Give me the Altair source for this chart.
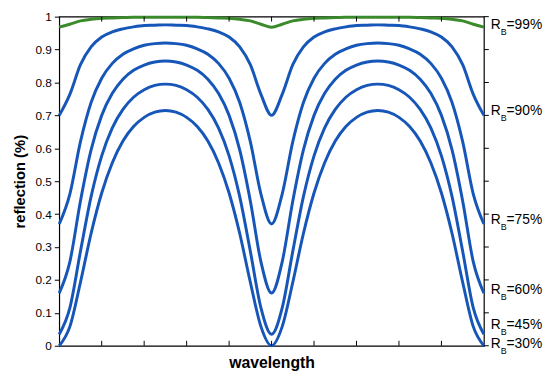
import altair as alt
import pandas as pd

# wavelength grid (arbitrary units, 10 tick intervals)
wl = [i * 0.25 for i in range(41)]

r99 = [0.968,0.977,0.987,0.992,0.995,0.996,0.997,0.998,0.998,0.998,0.998,0.998,0.998,0.998,0.997,0.996,0.995,0.992,0.987,0.977,0.968,
       0.977,0.987,0.992,0.995,0.996,0.997,0.998,0.998,0.998,0.998,0.998,0.998,0.998,0.997,0.996,0.995,0.992,0.987,0.977,0.968]
r90 = [0.700,0.764,0.854,0.908,0.938,0.954,0.963,0.969,0.973,0.974,0.975,0.974,0.973,0.969,0.963,0.954,0.938,0.908,0.854,0.764,0.700,
       0.764,0.854,0.908,0.938,0.954,0.963,0.969,0.973,0.974,0.975,0.974,0.973,0.969,0.963,0.954,0.938,0.908,0.854,0.764,0.700]
r75 = [0.370,0.461,0.620,0.739,0.813,0.858,0.886,0.902,0.913,0.918,0.920,0.918,0.913,0.902,0.886,0.858,0.813,0.739,0.620,0.461,0.370,
       0.461,0.620,0.739,0.813,0.858,0.886,0.902,0.913,0.918,0.920,0.918,0.913,0.902,0.886,0.858,0.813,0.739,0.620,0.461,0.370]
r60 = [0.160,0.255,0.440,0.595,0.700,0.767,0.810,0.837,0.853,0.862,0.865,0.862,0.853,0.837,0.810,0.767,0.700,0.595,0.440,0.255,0.160,
       0.255,0.440,0.595,0.700,0.767,0.810,0.837,0.853,0.862,0.865,0.862,0.853,0.837,0.810,0.767,0.700,0.595,0.440,0.255,0.160]
r45 = [0.035,0.115,0.287,0.453,0.577,0.662,0.718,0.755,0.778,0.791,0.795,0.791,0.778,0.755,0.718,0.662,0.577,0.453,0.287,0.115,0.035,
       0.115,0.287,0.453,0.577,0.662,0.718,0.755,0.778,0.791,0.795,0.791,0.778,0.755,0.718,0.662,0.577,0.453,0.287,0.115,0.035]
r30 = [0.000,0.058,0.193,0.341,0.464,0.556,0.622,0.666,0.694,0.710,0.715,0.710,0.694,0.666,0.622,0.556,0.464,0.341,0.193,0.058,0.000,
       0.058,0.193,0.341,0.464,0.556,0.622,0.666,0.694,0.710,0.715,0.710,0.694,0.666,0.622,0.556,0.464,0.341,0.193,0.058,0.000]

curve_names = ["99%", "90%", "75%", "60%", "45%", "30%"]
curve_vals = [r99, r90, r75, r60, r45, r30]
curve_colors = ["#3b8a2c", "#1656b8", "#1656b8", "#1656b8", "#1656b8", "#1656b8"]

label_text = ["=99%", "=90%", "=75%", "=60%", "=45%", "=30%"]
label_y = [0.973, 0.713, 0.383, 0.168, 0.062, 0.004]

y_ticks = [0, 0.1, 0.2, 0.3, 0.4, 0.5, 0.6, 0.7, 0.8, 0.9, 1]
x_ticks = [1, 2, 3, 4, 5, 6, 7, 8, 9]

rows = []
for name, vals in zip(curve_names, curve_vals):
    for x, v in zip(wl, vals):
        rows.append({"wl": x, "R": v, "curve": name})
df = pd.DataFrame(rows)
lab = pd.DataFrame({"t": label_text, "y": label_y})
yt = pd.DataFrame({"R": y_ticks})
xt = pd.DataFrame({"wl": x_ticks})

FONT = "Liberation Sans"
W, H = 431, 334

xs = alt.Scale(domain=[0, 10], nice=False, zero=False)
ys = alt.Scale(domain=[0, 1], nice=False)

xa = alt.Axis(ticks=False, labels=False, domain=False, grid=False,
              title="wavelength", titleFontSize=16, titleFontWeight="bold",
              titleFont=FONT, titlePadding=9, titleColor="black")
ya = alt.Axis(values=y_ticks, format=".1~f", tickSize=5, tickColor="black",
              labelFontSize=12, labelFont=FONT, labelColor="black", labelPadding=3,
              labelOverlap=False, labelFlush=False, labelBound=False,
              domain=False, grid=False,
              title="reflection (%)", titleFontSize=15, titleFontWeight="bold",
              titleFont=FONT, titleColor="black", titlePadding=8)

X = alt.X("wl:Q", scale=xs, axis=xa, title="wavelength")
Y = alt.Y("R:Q", scale=ys, axis=ya, title="reflection (%)")

lines = alt.Chart(df).mark_line(strokeWidth=3, interpolate="monotone").encode(
    x=X, y=Y,
    color=alt.Color("curve:N", scale=alt.Scale(domain=curve_names, range=curve_colors), legend=None),
)

bot_ticks = alt.Chart(xt).mark_rule(color="black", strokeWidth=1).encode(
    x=X, y=alt.value(H), y2=alt.value(H - 5))
top_ticks = alt.Chart(xt).mark_rule(color="black", strokeWidth=1).encode(
    x=X, y=alt.value(0), y2=alt.value(5))
right_ticks = alt.Chart(yt).mark_rule(color="black", strokeWidth=1).encode(
    y=Y, x=alt.value(W), x2=alt.value(W + 5))

YL = alt.Y("y:Q", scale=ys, axis=ya, title="reflection (%)")
txt_R = alt.Chart(lab).mark_text(align="left", baseline="middle", fontSize=14, font=FONT,
                                 color="black").encode(
    x=alt.value(438), y=YL, text=alt.value("R"))
txt_B = alt.Chart(lab).mark_text(align="left", baseline="middle", fontSize=9, font=FONT,
                                 color="black", dy=7).encode(
    x=alt.value(448), y=YL, text=alt.value("B"))
txt_v = alt.Chart(lab).mark_text(align="left", baseline="middle", fontSize=14, font=FONT,
                                 color="black").encode(
    x=alt.value(454), y=YL, text="t:N")

chart = alt.layer(lines, bot_ticks, top_ticks, right_ticks, txt_R, txt_B, txt_v).properties(
    width=W, height=H,
    autosize=alt.AutoSizeParams(type="none"),
    padding={"left": 52, "top": 6, "right": 61, "bottom": 33},
).configure_view(stroke="black", strokeWidth=1.2)

chart.save("out.html", embed_options={"renderer": "svg", "actions": False})
